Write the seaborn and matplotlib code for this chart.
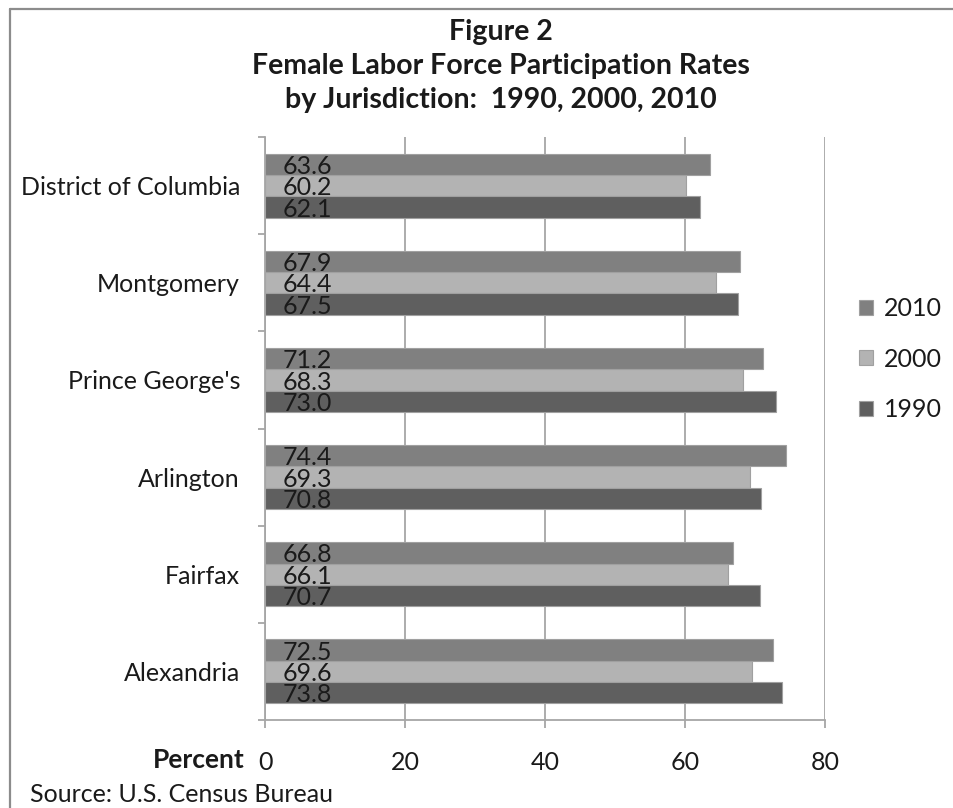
import matplotlib
matplotlib.use("Agg")
import matplotlib.pyplot as plt
from matplotlib.lines import Line2D
from matplotlib.ticker import FixedLocator
import seaborn as sns
import pandas as pd

# Female labor force participation rates (percent) by jurisdiction
jurisdictions = ["District of Columbia", "Montgomery", "Prince George's",
                 "Arlington", "Fairfax", "Alexandria"]
years = ["2010", "2000", "1990"]
rates_2010 = [63.6, 67.9, 71.2, 74.4, 66.8, 72.5]
rates_2000 = [60.2, 64.4, 68.3, 69.3, 66.1, 69.6]
rates_1990 = [62.1, 67.5, 73.0, 70.8, 70.7, 73.8]
x_ticks = [0, 20, 40, 60, 80]

series = {"2010": rates_2010, "2000": rates_2000, "1990": rates_1990}
df = pd.DataFrame(
    [(j, y, series[y][i]) for i, j in enumerate(jurisdictions) for y in years],
    columns=["jurisdiction", "year", "rate"],
)

sns.set_theme(style="white")
plt.rcParams["font.family"] = ["Lato", "DejaVu Sans"]
text_color = "#1a1a1a"
axis_gray = "#a6a6a6"
palette = {"2010": "#808080", "2000": "#b3b3b3", "1990": "#5f5f5f"}
fs = 18

fig = plt.figure(figsize=(9.54, 8.08), dpi=100)
ax = fig.add_axes([0.2778, 0.1089, 0.5870, 0.7215])

sns.barplot(data=df, x="rate", y="jurisdiction", hue="year", hue_order=years,
            order=jurisdictions, palette=palette, orient="h", width=0.66,
            edgecolor="#a0a0a0", linewidth=0.8, errorbar=None, ax=ax)

# value labels sitting at the base of each bar
for container, year in zip(ax.containers, years):
    for bar, value in zip(container, series[year]):
        ax.annotate(f"{value:.1f}", xy=(0, bar.get_y() + bar.get_height() / 2),
                    xytext=(13, -1.5), textcoords="offset points",
                    ha="left", va="center", fontsize=fs, color=text_color)

ax.set_xlim(0, 80)
ax.set_ylim(len(jurisdictions) - 0.5, -0.5)
ax.xaxis.set_major_locator(FixedLocator(x_ticks))
ax.xaxis.grid(True, color=axis_gray, linewidth=1.3)
ax.set_axisbelow(True)
ax.set_xlabel("")
ax.set_ylabel("")

for side in ("top", "right"):
    ax.spines[side].set_visible(False)
for side in ("left", "bottom"):
    ax.spines[side].set_color(axis_gray)
    ax.spines[side].set_linewidth(1.3)

ax.tick_params(axis="x", which="major", direction="out", length=6, width=1.3,
               color=axis_gray, pad=16, labelsize=fs, labelcolor=text_color,
               bottom=True)
ax.yaxis.set_minor_locator(FixedLocator([i - 0.5 for i in range(len(jurisdictions) + 1)]))
ax.tick_params(axis="y", which="major", length=0, pad=18, labelsize=fs,
               labelcolor=text_color, left=True)
ax.tick_params(axis="y", which="minor", direction="out", length=5, width=1.3,
               color=axis_gray, left=True)

handles, labels = ax.get_legend_handles_labels()
ax.legend(handles, labels, loc="center left", bbox_to_anchor=(859 / 954, 1 - 359 / 808),
          bbox_transform=fig.transFigure, frameon=False, fontsize=fs, borderpad=0,
          borderaxespad=0, handlelength=0.55, handleheight=0.55, handletextpad=0.45,
          labelspacing=1.1, labelcolor=text_color)

title_lines = ["Figure 2", "Female Labor Force Participation Rates",
               "by Jurisdiction:  1990, 2000, 2010"]
for k, line in enumerate(title_lines):
    fig.text(501 / 954, 1 - (32 + 34 * k) / 808, line, ha="center", va="center",
             fontsize=20.5, fontweight="bold", color=text_color)

fig.text(245 / 954, 1 - 760 / 808, "Percent", ha="right", va="center",
         fontsize=19, fontweight="bold", color=text_color)
fig.text(30 / 954, 1 - 795 / 808, "Source: U.S. Census Bureau", ha="left",
         va="center", fontsize=fs, color=text_color)

# frame lines along the top and left of the figure
frame_color = "#8c8c8c"
fig.add_artist(Line2D([10 / 954, 1], [1 - 9 / 808, 1 - 9 / 808], transform=fig.transFigure,
                      color=frame_color, linewidth=1.6))
fig.add_artist(Line2D([10 / 954, 10 / 954], [0, 1 - 9 / 808], transform=fig.transFigure,
                      color=frame_color, linewidth=1.6))

fig.savefig("out.png", dpi=100, facecolor="white")
